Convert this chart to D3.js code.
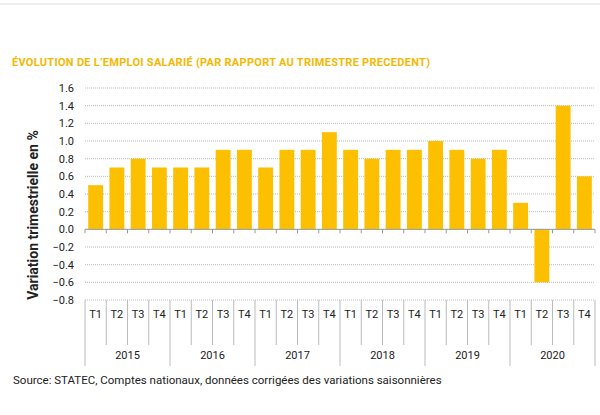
<!DOCTYPE html>
<html><head><meta charset="utf-8">
<script src="https://cdn.jsdelivr.net/npm/d3@7"></script>
<style>body{margin:0;background:#fff}</style>
</head><body>
<script>
var years = ["2015","2016","2017","2018","2019","2020"];
var quarters = ["T1","T2","T3","T4"];
var values = [0.5,0.7,0.8,0.7, 0.7,0.7,0.9,0.9, 0.7,0.9,0.9,1.1, 0.9,0.8,0.9,0.9, 1.0,0.9,0.8,0.9, 0.3,-0.6,1.4,0.6];
var yTicks = [-0.8,-0.6,-0.4,-0.2,0,0.2,0.4,0.6,0.8,1.0,1.2,1.4,1.6];

var keys = [];
years.forEach(function(y){ quarters.forEach(function(q){ keys.push(y+"-"+q); }); });

var svg = d3.select("body").append("svg").attr("width",600).attr("height",415);
var mLeft = 85, mRight = 595, mTop = 88, mBottom = 300;

var x = d3.scaleBand().domain(keys).range([mLeft,mRight]).paddingInner(0.3).paddingOuter(0.15);
var xb = d3.scaleBand().domain(keys).range([mLeft,mRight]);
var y = d3.scaleLinear().domain([-0.8,1.6]).range([mBottom,mTop]);

svg.append("line").attr("x1",0).attr("x2",600).attr("y1",4).attr("y2",4).attr("stroke","#ddd");

svg.append("text").attr("x",12).attr("y",66).attr("fill","#f5b800")
  .attr("font-family","Roboto, sans-serif").attr("font-weight","bold").attr("font-size",11)
  .attr("textLength",418).text("ÉVOLUTION DE L’EMPLOI SALARIÉ (PAR RAPPORT AU TRIMESTRE PRECEDENT)");

svg.selectAll("line.grid").data(yTicks).enter().append("line").attr("class","grid")
  .attr("x1",mLeft).attr("x2",mRight).attr("y1",function(d){return y(d);}).attr("y2",function(d){return y(d);})
  .attr("stroke","#bbb").attr("stroke-dasharray","1,1");

svg.selectAll("text.yt").data(yTicks).enter().append("text").attr("class","yt")
  .attr("x",74).attr("y",function(d){return y(d)+4;}).attr("text-anchor","end")
  .attr("font-family","Roboto, sans-serif").attr("font-size",11).attr("fill","#222")
  .text(function(d){return d3.format(".1f")(d);});

svg.selectAll("rect.bar").data(values).enter().append("rect").attr("class","bar")
  .attr("x",function(d,i){return x(keys[i]);}).attr("width",x.bandwidth())
  .attr("y",function(d){return y(Math.max(0,d));})
  .attr("height",function(d){return Math.abs(y(d)-y(0));})
  .attr("fill","#fcc000");

// zero axis ticks
svg.append("line").attr("x1",mLeft).attr("x2",mRight).attr("y1",y(0)).attr("y2",y(0)).attr("stroke","#999");
svg.selectAll("line.zt").data(keys.concat(["end"])).enter().append("line").attr("class","zt")
  .attr("x1",function(d,i){return mLeft+i*xb.bandwidth();}).attr("x2",function(d,i){return mLeft+i*xb.bandwidth();})
  .attr("y1",y(0)).attr("y2",y(0)+4).attr("stroke","#999");

// category separators
svg.selectAll("line.qs").data(keys.concat(["end"])).enter().append("line").attr("class","qs")
  .attr("x1",function(d,i){return mLeft+i*xb.bandwidth();}).attr("x2",function(d,i){return mLeft+i*xb.bandwidth();})
  .attr("y1",mBottom).attr("y2",function(d,i){return i%4==0?366:345;}).attr("stroke","#bbb");

svg.selectAll("text.q").data(keys).enter().append("text").attr("class","q")
  .attr("x",function(d){return xb(d)+xb.bandwidth()/2;}).attr("y",318).attr("text-anchor","middle")
  .attr("font-family","Roboto, sans-serif").attr("font-size",11).attr("fill","#222")
  .text(function(d){return d.split("-")[1];});

svg.selectAll("text.yr").data(years).enter().append("text").attr("class","yr")
  .attr("x",function(d,i){return mLeft+(i*4+2)*xb.bandwidth();}).attr("y",359).attr("text-anchor","middle")
  .attr("font-family","Roboto, sans-serif").attr("font-size",11).attr("fill","#222")
  .text(function(d){return d;});

svg.append("text").attr("transform","translate(38,215) rotate(-90)").attr("text-anchor","middle")
  .attr("font-family","Roboto, sans-serif").attr("font-weight","bold").attr("font-size",14).attr("fill","#222")
  .text("Variation trimestrielle en %");

svg.append("text").attr("x",13).attr("y",384)
  .attr("font-family","Roboto, sans-serif").attr("font-size",11.5).attr("fill","#222")
  .text("Source: STATEC, Comptes nationaux, données corrigées des variations saisonnières");
</script>
</body></html>
